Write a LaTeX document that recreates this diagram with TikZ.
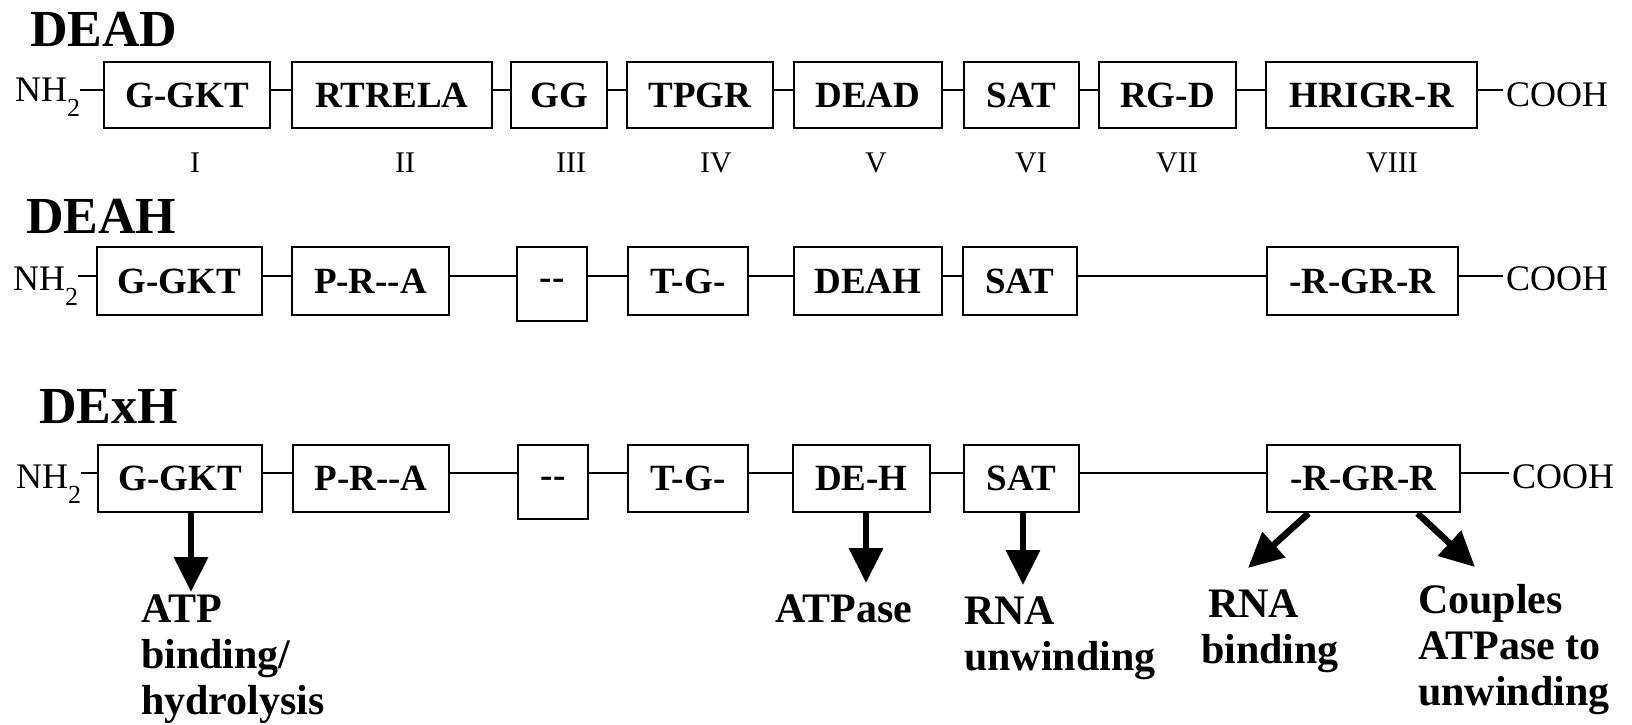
\documentclass[tikz,border=0pt]{standalone}
\usepackage{fontspec}
\setmainfont{Liberation Serif}
\usetikzlibrary{arrows.meta}
\begin{document}
\begin{tikzpicture}[x=1pt,y=-1pt,
  box/.style={draw, line width=2.8pt, inner sep=0pt, font=\fontsize{37}{40}\selectfont\bfseries},
  ttl/.style={anchor=base west, inner sep=0pt, font=\fontsize{52}{56}\selectfont\bfseries},
  term/.style={inner sep=0pt, font=\fontsize{36}{40}\selectfont},
  num/.style={anchor=base, inner sep=0pt, font=\fontsize{30}{34}\selectfont},
  link/.style={line width=2.5pt},
  arr/.style={line width=6.5pt, -{Triangle[length=35pt,width=33pt]}},
  lab/.style={anchor=base west, inner sep=0pt, align=left, font=\fontsize{42}{46}\selectfont\bfseries},
]
\useasboundingbox[fill=white] (0,0) rectangle (1632,725);
\newcommand{\nhtwo}{NH\raisebox{-15pt}{\fontsize{26}{26}\selectfont 2}}
\newcommand{\dd}{-\kern0pt-}

% ---------- Row 1: DEAD ----------
\node[ttl] (t1) at (30,47) {DEAD};
\coordinate (r1) at (0,90);
\node[term,anchor=base west] (nh1) at (15,101) {\nhtwo};
\node[box,minimum width=166pt,minimum height=66pt] (ggkt1) at (187,95) {G-GKT};
\node[box,minimum width=200pt,minimum height=66pt] (rtrela) at (392,95) {RTRELA};
\node[box,minimum width=96pt,minimum height=66pt] (gg) at (559,95) {GG};
\node[box,minimum width=146pt,minimum height=66pt] (tpgr) at (700,95) {TPGR};
\node[box,minimum width=148pt,minimum height=66pt] (dead) at (868,95) {DEAD};
\node[box,minimum width=115pt,minimum height=66pt] (sat1) at (1021.5,95) {SAT};
\node[box,minimum width=137pt,minimum height=66pt] (rgd) at (1167.5,95) {RG-D};
\node[box,minimum width=211pt,minimum height=66pt] (hrigr) at (1371.5,95) {HRIGR-R};
\node[term,anchor=west,inner xsep=3pt] (cooh1) at (1503,95) {COOH};
\draw[link] (nh1.east |- r1) -- (ggkt1.west |- r1);
\draw[link] (ggkt1.east |- r1) -- (rtrela.west |- r1);
\draw[link] (rtrela.east |- r1) -- (gg.west |- r1);
\draw[link] (gg.east |- r1) -- (tpgr.west |- r1);
\draw[link] (tpgr.east |- r1) -- (dead.west |- r1);
\draw[link] (dead.east |- r1) -- (sat1.west |- r1);
\draw[link] (sat1.east |- r1) -- (rgd.west |- r1);
\draw[link] (rgd.east |- r1) -- (hrigr.west |- r1);
\draw[link] (hrigr.east |- r1) -- (cooh1.west |- r1);
\node[num] (n1) at (195,172) {I};
\node[num] (n2) at (405,172) {II};
\node[num] (n3) at (571,172) {III};
\node[num] (n4) at (716,172) {IV};
\node[num] (n5) at (876,172) {V};
\node[num] (n6) at (1031,172) {VI};
\node[num] (n7) at (1177,172) {VII};
\node[num] (n8) at (1392,172) {VIII};

% ---------- Row 2: DEAH ----------
\node[ttl] (t2) at (26,233) {DEAH};
\coordinate (r2) at (0,276);
\node[term,anchor=base west] (nh2) at (13,290) {\nhtwo};
\node[box,minimum width=165pt,minimum height=68pt] (ggkt2) at (179.5,281) {G-GKT};
\node[box,minimum width=157pt,minimum height=68pt] (prra2) at (370.5,281) {P-R\dd A};
\node[box,minimum width=70pt,minimum height=74pt] (dash2) at (552,284) {\dd};
\node[box,minimum width=120pt,minimum height=68pt] (tg2) at (688,281) {T-G-};
\node[box,minimum width=148pt,minimum height=68pt] (deah) at (868,281) {DEAH};
\node[box,minimum width=114pt,minimum height=68pt] (sat2) at (1020,281) {SAT};
\node[box,minimum width=191pt,minimum height=68pt] (rgrr2) at (1362.5,281) {-R-GR-R};
\node[term,anchor=west,inner xsep=3pt] (cooh2) at (1503,279) {COOH};
\draw[link] (nh2.east |- r2) -- (ggkt2.west |- r2);
\draw[link] (ggkt2.east |- r2) -- (prra2.west |- r2);
\draw[link] (prra2.east |- r2) -- (dash2.west |- r2);
\draw[link] (dash2.east |- r2) -- (tg2.west |- r2);
\draw[link] (tg2.east |- r2) -- (deah.west |- r2);
\draw[link] (deah.east |- r2) -- (sat2.west |- r2);
\draw[link] (sat2.east |- r2) -- (rgrr2.west |- r2);
\draw[link] (rgrr2.east |- r2) -- (cooh2.west |- r2);

% ---------- Row 3: DExH ----------
\node[ttl] (t3) at (39,423) {DExH};
\coordinate (r3) at (0,473);
\node[term,anchor=base west] (nh3) at (16,488) {\nhtwo};
\node[box,minimum width=164pt,minimum height=67pt] (ggkt3) at (180,478.5) {G-GKT};
\node[box,minimum width=156pt,minimum height=67pt] (prra3) at (371,478.5) {P-R\dd A};
\node[box,minimum width=70pt,minimum height=74pt] (dash3) at (553,482) {\dd};
\node[box,minimum width=120pt,minimum height=67pt] (tg3) at (688,478.5) {T-G-};
\node[box,minimum width=137pt,minimum height=67pt] (deh) at (861.5,478.5) {DE-H};
\node[box,minimum width=115pt,minimum height=67pt] (sat3) at (1021.5,478.5) {SAT};
\node[box,minimum width=193pt,minimum height=67pt] (rgrr3) at (1363.5,478.5) {-R-GR-R};
\node[term,anchor=west,inner xsep=3pt] (cooh3) at (1509,477) {COOH};
\draw[link] (nh3.east |- r3) -- (ggkt3.west |- r3);
\draw[link] (ggkt3.east |- r3) -- (prra3.west |- r3);
\draw[link] (prra3.east |- r3) -- (dash3.west |- r3);
\draw[link] (dash3.east |- r3) -- (tg3.west |- r3);
\draw[link] (tg3.east |- r3) -- (deh.west |- r3);
\draw[link] (deh.east |- r3) -- (sat3.west |- r3);
\draw[link] (sat3.east |- r3) -- (rgrr3.west |- r3);
\draw[link] (rgrr3.east |- r3) -- (cooh3.west |- r3);

% ---------- Function arrows and labels ----------
\coordinate (a1) at (191,592);
\coordinate (a2) at (866,583);
\coordinate (a3) at (1023,585);
\coordinate (a4) at (1248,568);
\coordinate (a5) at (1475,567);
\draw[arr] (a1 |- ggkt3.south) -- (a1);
\draw[arr] (a2 |- deh.south) -- (a2);
\draw[arr] (a3 |- sat3.south) -- (a3);
\draw[arr] ([xshift=-55pt]rgrr3.south) -- (a4);
\draw[arr] ([xshift=54pt]rgrr3.south) -- (a5);

% base anchor of a multi-line node = baseline of its last line
\node[lab] (l1) at (141,714) {ATP\\binding/\\hydrolysis};
\node[lab] (l2) at (775,622) {ATPase};
\node[lab] (l3) at (964,670) {RNA\\unwinding};
\node[lab] (l4) at (1201,663) {\hspace*{7pt}RNA\\binding};
\node[lab] (l5) at (1418,705) {Couples\\ATPase to\\unwinding};
\end{tikzpicture}
\end{document}
